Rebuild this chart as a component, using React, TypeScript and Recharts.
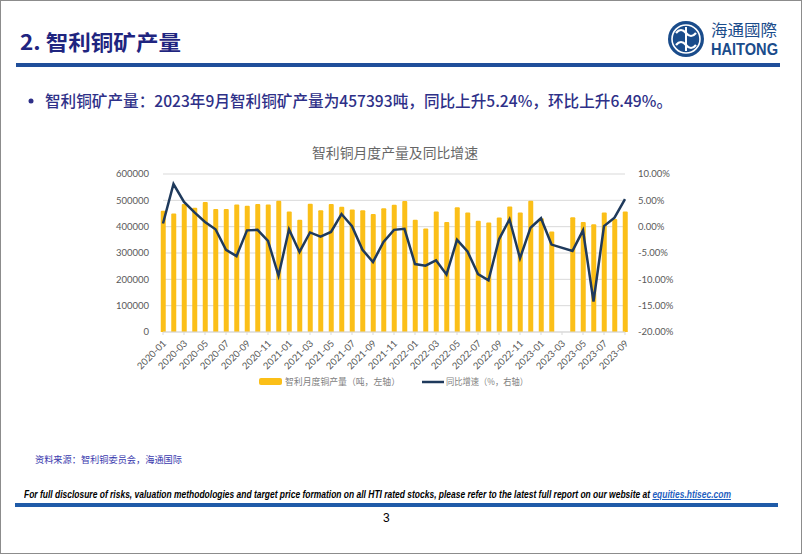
import { useLayoutEffect, useRef, useState } from 'react';
import {
  Bar,
  CartesianGrid,
  ComposedChart,
  Line,
  XAxis,
  YAxis,
} from 'recharts';

const months = [
  '2020-01', '2020-02', '2020-03', '2020-04', '2020-05', '2020-06', '2020-07', '2020-08', '2020-09', '2020-10', '2020-11', '2020-12',
  '2021-01', '2021-02', '2021-03', '2021-04', '2021-05', '2021-06', '2021-07', '2021-08', '2021-09', '2021-10', '2021-11', '2021-12',
  '2022-01', '2022-02', '2022-03', '2022-04', '2022-05', '2022-06', '2022-07', '2022-08', '2022-09', '2022-10', '2022-11', '2022-12',
  '2023-01', '2023-02', '2023-03', '2023-04', '2023-05', '2023-06', '2023-07', '2023-08', '2023-09',
];

// 智利月度铜产量（吨）
const output: (number | null)[] = [
  460000, 450000, 486000, 472000, 494000, 467000, 467000, 484000, 479000, 486000, 484000, 498000,
  458000, 426000, 487000, 462000, 486000, 476000, 465000, 462000, 448000, 470000, 483000, 497000,
  426000, 393000, 458000, 418000, 474000, 454000, 422000, 416000, 435000, 477000, 454000, 498000,
  432000, 382000, null, 436000, 418000, 409000, 454000, 429500, 457393,
];

// 同比增速（%）
const yoy: (number | null)[] = [
  0.6, 8.1, 4.7, 2.7, 0.9, -0.5, -4.4, -5.6, -0.7, -0.6, -2.7, -9.3,
  -0.5, -4.8, -1.1, -1.9, -1.0, 2.4, 0.1, -4.4, -6.7, -2.9, -0.6, -0.4,
  -7.1, -7.4, -6.4, -9.1, -2.5, -4.7, -9.0, -10.2, -2.4, 1.4, -6.0, -0.2,
  1.6, -3.4, null, -4.6, -0.7, -14.2, 0.1, 1.7, 5.24,
];

const leftTicks = [0, 100000, 200000, 300000, 400000, 500000, 600000];
const rightTicks = [-20, -15, -10, -5, 0, 5, 10];
const xTicks = months.map((_, i) => i).filter((i) => i % 2 === 0);

const data = months.map((m, i) => ({ idx: i, month: m, output: output[i], yoy: yoy[i] }));

const BAR = '#FBBF18';
const NAVY = '#1F3A5C';
const TICK_FONT = 'Lato, "Open Sans", sans-serif';
const CJK = '"Noto Sans CJK SC", sans-serif';
const LATIN = '"Liberation Sans", Arial, sans-serif';

function MonthTick({ x, y, payload }: any) {
  const ax = x + 4;
  const ay = y + 7;
  return (
    <text
      x={ax}
      y={ay}
      transform={`rotate(-45 ${ax} ${ay})`}
      textAnchor="end"
      fontSize={9.5}
      fontFamily={TICK_FONT}
      fill="#595959"
    >
      {months[payload.value]}
    </text>
  );
}

function Logo() {
  return (
    <g>
      <circle cx={686} cy={39} r={18} fill="#1A4C8B" />
      <circle cx={686} cy={39} r={14} fill="none" stroke="#fff" strokeWidth={1.6} />
      <path d="M676 33 q5 -6 10 0 q5 6 10 0" fill="none" stroke="#fff" strokeWidth={2.2} />
      <path d="M676 45 q5 -6 10 0 q5 6 10 0" fill="none" stroke="#fff" strokeWidth={2.2} />
      <line x1={686} y1={27} x2={686} y2={51} stroke="#fff" strokeWidth={2} />
      <text x={711} y={36} fontSize={16} fontFamily={CJK} fill="#1A4C8B" textLength={66} lengthAdjust="spacingAndGlyphs">
        海通國際
      </text>
      <text x={711} y={55} fontSize={16} fontWeight={700} fontFamily={LATIN} fill="#1A4C8B" textLength={67} lengthAdjust="spacingAndGlyphs">
        HAITONG
      </text>
    </g>
  );
}

// disclaimer line squeezed to the reference width, like the condensed font in the slide
function Disclaimer() {
  const ref = useRef<HTMLDivElement>(null);
  const [scale, setScale] = useState(0.8);
  useLayoutEffect(() => {
    if (ref.current) {
      const w = ref.current.scrollWidth;
      if (w > 0) setScale(707 / w);
    }
  }, []);
  return (
    <div
      ref={ref}
      style={{
        position: 'absolute',
        left: 23,
        top: 487,
        whiteSpace: 'nowrap',
        fontFamily: LATIN,
        fontSize: 10.5,
        fontStyle: 'italic',
        fontWeight: 700,
        color: '#000',
        lineHeight: '12px',
        transform: `scaleX(${scale})`,
        transformOrigin: 'left top',
      }}
    >
      For full disclosure of risks, valuation methodologies and target price formation on all HTI rated stocks, please refer to the latest full report on our website at{' '}
      <span style={{ color: '#1F5FBF', textDecoration: 'underline' }}>equities.htisec.com</span>
    </div>
  );
}

export default function App() {
  return (
    <div
      style={{
        position: 'absolute',
        left: 0,
        top: 0,
        width: 802,
        height: 554,
        boxSizing: 'border-box',
        border: '1px solid #8c8c8c',
        background: '#fff',
        overflow: 'hidden',
      }}
    >
      <svg width={802} height={554} style={{ position: 'absolute', left: -1, top: -1 }}>
        <text x={20} y={50} fontSize={21} fontWeight={700} fontFamily={CJK} fill="#1F2580" textLength={161} lengthAdjust="spacingAndGlyphs">
          2. 智利铜矿产量
        </text>
        <Logo />
        <rect x={16} y={63} width={764} height={4} fill="#1F4E9A" />
        <circle cx={31} cy={101} r={2.5} fill="#2E3088" />
        <text x={45} y={107} fontSize={15.5} fontWeight={500} fontFamily={CJK} fill="#2E3088" textLength={627} lengthAdjust="spacingAndGlyphs">
          智利铜矿产量：2023年9月智利铜矿产量为457393吨，同比上升5.24%，环比上升6.49%。
        </text>

        <text x={395} y={158} textAnchor="middle" fontSize={13.5} fontFamily={CJK} fill="#666666" textLength={166} lengthAdjust="spacingAndGlyphs">
          智利铜月度产量及同比增速
        </text>

        <rect x={259} y={378} width={23} height={7} rx={2} fill={BAR} />
        <text x={285} y={385} fontSize={9} fontFamily={CJK} fill="#7F7F7F" textLength={115} lengthAdjust="spacingAndGlyphs">
          智利月度铜产量（吨，左轴）
        </text>
        <line x1={422} x2={444} y1={382} y2={382} stroke={NAVY} strokeWidth={2.5} />
        <text x={446} y={385} fontSize={9} fontFamily={CJK} fill="#7F7F7F" textLength={82} lengthAdjust="spacingAndGlyphs">
          同比增速（%，右轴）
        </text>

        <text x={35} y={463} fontSize={9.5} fontFamily={CJK} fill="#3A3AAE" textLength={147} lengthAdjust="spacingAndGlyphs">
          资料来源：智利铜委员会，海通国际
        </text>

        <rect x={15} y={503} width={763} height={4} fill="#1F5BA8" />
        <text x={383} y={522} fontSize={12} fontFamily={LATIN} fill="#000">
          3
        </text>
      </svg>

      <Disclaimer />

      <div style={{ position: 'absolute', left: 99, top: 139 }}>
        <ComposedChart width={600} height={260} data={data} margin={{ top: 34, right: 15, bottom: 0, left: 0 }}>
          <CartesianGrid yAxisId="left" vertical={false} stroke="#D9D9D9" />
          <XAxis
            dataKey="idx"
            type="number"
            domain={[0, 44]}
            ticks={xTicks}
            interval={0}
            height={68}
            stroke="#D9D9D9"
            tickSize={3}
            tick={<MonthTick />}
          />
          <YAxis
            yAxisId="left"
            orientation="left"
            width={63}
            domain={[0, 600000]}
            ticks={leftTicks}
            axisLine={false}
            tickLine={false}
            tickMargin={8}
            tick={{ fontSize: 9.5, fill: '#595959', fontFamily: TICK_FONT }}
          />
          <YAxis
            yAxisId="right"
            orientation="right"
            width={60}
            domain={[-20, 10]}
            ticks={rightTicks}
            axisLine={false}
            tickLine={false}
            tickMargin={7}
            tickFormatter={(v: number) => `${v.toFixed(2)}%`}
            tick={{ fontSize: 9.5, fill: '#595959', fontFamily: TICK_FONT }}
          />
          <Bar yAxisId="left" dataKey="output" fill={BAR} barSize={5} radius={[1, 1, 0, 0]} isAnimationActive={false} />
          <Line
            yAxisId="right"
            type="linear"
            dataKey="yoy"
            stroke={NAVY}
            strokeWidth={2.5}
            dot={false}
            connectNulls
            isAnimationActive={false}
          />
        </ComposedChart>
      </div>
    </div>
  );
}
